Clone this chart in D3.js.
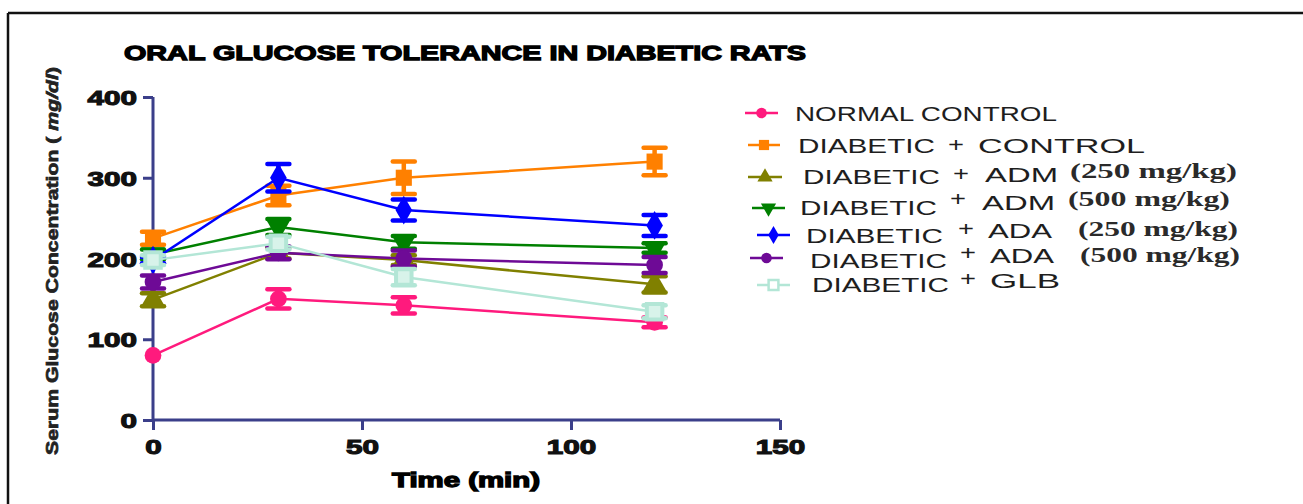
<!DOCTYPE html>
<html>
<head>
<meta charset="utf-8">
<script src="https://cdn.jsdelivr.net/npm/d3@7"></script>
<style>
  html, body { margin: 0; padding: 0; background: #fff; }
  svg { display: block; }
</style>
</head>
<body>
<svg id="chart" width="1303" height="504"></svg>
<script>
// Sampling times (min)
const times = [0, 30, 60, 120];

// Dose labels shown after each group name in the legend
const doseLabels = ["", "", "(250 mg/kg)", "(500 mg/kg)", "(250 mg/kg)", "(500 mg/kg)", ""];

// Mean serum glucose (mg/dl) per group at each time point
const normalControl   = [80, 150, 142, 121];
const diabeticControl = [225, 278, 300, 320];
const adm250          = [149, 207, 198, 168];
const adm500          = [205, 239, 220, 213];
const ada250          = [198, 300, 260, 241];
const ada500          = [171, 207, 200, 192];
const glb             = [198, 219, 177, 134];

// Error (± SEM) per group at each time point
const normalControlErr   = [0, 12, 10, 6];
const diabeticControlErr = [8, 12, 20, 17];
const adm250Err          = [8, 7, 6, 10];
const adm500Err          = [6, 10, 8, 6];
const ada250Err          = [4, 17, 13, 13];
const ada500Err          = [8, 8, 10, 10];
const glbErr             = [6, 8, 10, 8];

// Axis ticks
const xTicks = [0, 50, 100, 150];
const yTicks = [0, 100, 200, 300, 400];

const series = [
  { values: normalControl,   err: normalControlErr,   color: "#ff1a7d", shape: "circle" },
  { values: diabeticControl, err: diabeticControlErr, color: "#ff8000", shape: "square" },
  { values: adm250,          err: adm250Err,          color: "#808000", shape: "triUp" },
  { values: adm500,          err: adm500Err,          color: "#008000", shape: "triDown" },
  { values: ada250,          err: ada250Err,          color: "#0000ff", shape: "diamond" },
  { values: ada500,          err: ada500Err,          color: "#6e0a96", shape: "circle" },
  { values: glb,             err: glbErr,             color: "#b3e6d6", shape: "openSquare" }
];

const svg = d3.select("#chart");

// Frame lines (top and left)
svg.append("line").attr("x1", 8).attr("y1", 13).attr("x2", 1303).attr("y2", 13)
  .attr("stroke", "#111").attr("stroke-width", 2.5);
svg.append("line").attr("x1", 8).attr("y1", 13).attr("x2", 8).attr("y2", 504)
  .attr("stroke", "#111").attr("stroke-width", 2.5);

const x = d3.scaleLinear().domain([0, 150]).range([153, 780]);
const y = d3.scaleLinear().domain([0, 400]).range([420, 97]);

const axisColor = "#3b3f8a";
const heavyFont = "'Liberation Sans', Arial, sans-serif";

// Y axis
const yAxis = svg.append("g").attr("transform", `translate(${x(0)},0)`)
  .call(d3.axisLeft(y).tickValues(yTicks).tickSize(10).tickPadding(6));
// X axis
const xAxis = svg.append("g").attr("transform", `translate(0,${y(0)})`)
  .call(d3.axisBottom(x).tickValues(xTicks).tickSize(10).tickPadding(9));

[yAxis, xAxis].forEach(g => {
  g.select(".domain").attr("stroke", axisColor).attr("stroke-width", 3);
  g.selectAll(".tick line").attr("stroke", axisColor).attr("stroke-width", 3);
  g.selectAll(".tick text")
    .attr("fill", "#111")
    .attr("font-family", heavyFont)
    .attr("font-weight", "bold")
    .attr("font-size", 21)
    .attr("stroke", "#111").attr("stroke-width", 1.1)
    .attr("lengthAdjust", "spacingAndGlyphs")
    .attr("textLength", d => String(d).length * 16.5);
});
yAxis.selectAll(".domain").attr("d", `M0,${y(400)}H0V${y(0)}`);
yAxis.selectAll(".tick text").attr("dy", "0.36em");
xAxis.selectAll(".tick text").attr("dy", "0.71em");
xAxis.selectAll(".domain").attr("d", `M${x(0)},0H${x(150)}`);

// Title
svg.append("text")
  .attr("x", 124).attr("y", 60)
  .attr("font-family", heavyFont).attr("font-weight", "bold").attr("font-size", 21)
  .attr("stroke", "#000").attr("stroke-width", 1.3)
  .attr("textLength", 682).attr("lengthAdjust", "spacingAndGlyphs")
  .text("ORAL GLUCOSE TOLERANCE IN DIABETIC  RATS");

// Axis titles
svg.append("text")
  .attr("x", 466).attr("y", 487).attr("text-anchor", "middle")
  .attr("font-family", heavyFont).attr("font-weight", "bold").attr("font-size", 20)
  .attr("stroke", "#000").attr("stroke-width", 1.3)
  .attr("textLength", 148).attr("lengthAdjust", "spacingAndGlyphs")
  .text("Time (min)");

const yTitle = svg.append("text")
  .attr("transform", "translate(58,261) rotate(-90)")
  .attr("text-anchor", "middle")
  .attr("font-family", heavyFont).attr("font-weight", "bold").attr("font-size", 17)
  .attr("fill", "#222").attr("stroke", "#222").attr("stroke-width", 0.7)
  .attr("textLength", 388).attr("lengthAdjust", "spacingAndGlyphs");
yTitle.append("tspan").text("Serum Glucose Concentration ( ");
yTitle.append("tspan").attr("font-style", "italic").text("mg/dl");
yTitle.append("tspan").text(")");

// Marker drawing
const symbolFor = {
  circle: d3.symbolCircle, square: d3.symbolSquare, triUp: d3.symbolTriangle,
  triDown: d3.symbolTriangle, diamond: d3.symbolDiamond, openSquare: d3.symbolSquare
};
function drawMarker(g, s, cx, cy, scale) {
  const size = { circle: 220, square: 260, triUp: 250, triDown: 250, diamond: 240, openSquare: 240 }[s.shape] * scale;
  const p = g.append("path")
    .attr("d", d3.symbol().type(symbolFor[s.shape]).size(size)())
    .attr("transform", `translate(${cx},${cy})` + (s.shape === "triDown" ? " rotate(180)" : ""));
  if (s.shape === "openSquare") {
    p.attr("fill", scale < 1 ? "#fff" : "#d8f3ea").attr("stroke", s.color).attr("stroke-width", scale < 1 ? 2.5 : 4);
  } else {
    p.attr("fill", s.color);
  }
}

const line = d3.line().x((d, i) => x(times[i])).y(d => y(d));

// Series: lines, error bars, markers
series.forEach(s => {
  const g = svg.append("g");
  g.append("path").datum(s.values).attr("d", line)
    .attr("fill", "none").attr("stroke", s.color).attr("stroke-width", 2.5);
  s.values.forEach((v, i) => {
    const e = s.err[i];
    const cx = x(times[i]);
    if (e > 0) {
      g.append("line").attr("x1", cx).attr("x2", cx).attr("y1", y(v - e)).attr("y2", y(v + e))
        .attr("stroke", s.color).attr("stroke-width", 4.5);
      [v - e, v + e].forEach(ev => {
        g.append("line").attr("x1", cx - 11).attr("x2", cx + 11).attr("y1", y(ev)).attr("y2", y(ev))
          .attr("stroke", s.color).attr("stroke-width", 4.5).attr("stroke-linecap", "round");
      });
    }
    drawMarker(g, s, cx, y(v), 1);
  });
});

// Legend layout: marker line [x0, x1, y] and text pieces [text, x, baseline, width, kind]
const legendLayout = [
  { m: [745, 778, 113], t: [["NORMAL CONTROL", 795, 121, 262, "sans"]] },
  { m: [748, 780, 145], t: [["DIABETIC", 798, 153, 137, "sans"], ["+", 948, 152, 16, "plus"], ["CONTROL", 978, 153, 167, "sans"]] },
  { m: [748, 782, 177], t: [["DIABETIC", 803, 184, 137, "sans"], ["+", 953, 181, 16, "plus"], ["ADM", 985, 182, 73, "sans"], [null, 1070, 178, 167, "serif"]] },
  { m: [752, 785, 208], t: [["DIABETIC", 800, 215, 137, "sans"], ["+", 950, 206, 16, "plus"], ["ADM", 982, 210, 73, "sans"], [null, 1068, 206, 162, "serif"]] },
  { m: [757, 790, 235], t: [["DIABETIC", 806, 243, 137, "sans"], ["+", 958, 236, 16, "plus"], ["ADA", 988, 238, 64, "sans"], [null, 1078, 236, 160, "serif"]] },
  { m: [750, 783, 258], t: [["DIABETIC", 810, 268, 137, "sans"], ["+", 960, 260, 16, "plus"], ["ADA", 990, 263, 64, "sans"], [null, 1080, 262, 160, "serif"]] },
  { m: [757, 790, 285], t: [["DIABETIC", 812, 292, 137, "sans"], ["+", 960, 286, 16, "plus"], ["GLB", 990, 288, 70, "sans"]] }
];

const legend = svg.append("g");
series.forEach((s, i) => {
  const L = legendLayout[i];
  legend.append("line").attr("x1", L.m[0]).attr("x2", L.m[1]).attr("y1", L.m[2]).attr("y2", L.m[2])
    .attr("stroke", s.color).attr("stroke-width", 2.5);
  drawMarker(legend, s, (L.m[0] + L.m[1]) / 2, L.m[2], 0.4);
  L.t.forEach(([txt, tx, ty, w, kind]) => {
    const label = txt === null ? doseLabels[i] : txt;
    const t = legend.append("text").attr("x", tx).attr("y", ty).attr("fill", "#1e1e1e")
      .attr("textLength", w).attr("lengthAdjust", "spacingAndGlyphs").text(label);
    if (kind === "serif") {
      t.attr("font-family", "'Liberation Serif', 'Times New Roman', serif").attr("font-weight", "bold").attr("font-size", 20).attr("fill", "#2a2a2a");
    } else if (kind === "plus") {
      t.attr("font-family", "'Liberation Sans', Arial, sans-serif").attr("font-size", 20);
    } else {
      t.attr("font-family", "'Liberation Sans', Arial, sans-serif").attr("font-size", 21);
    }
  });
});
</script>
</body>
</html>
